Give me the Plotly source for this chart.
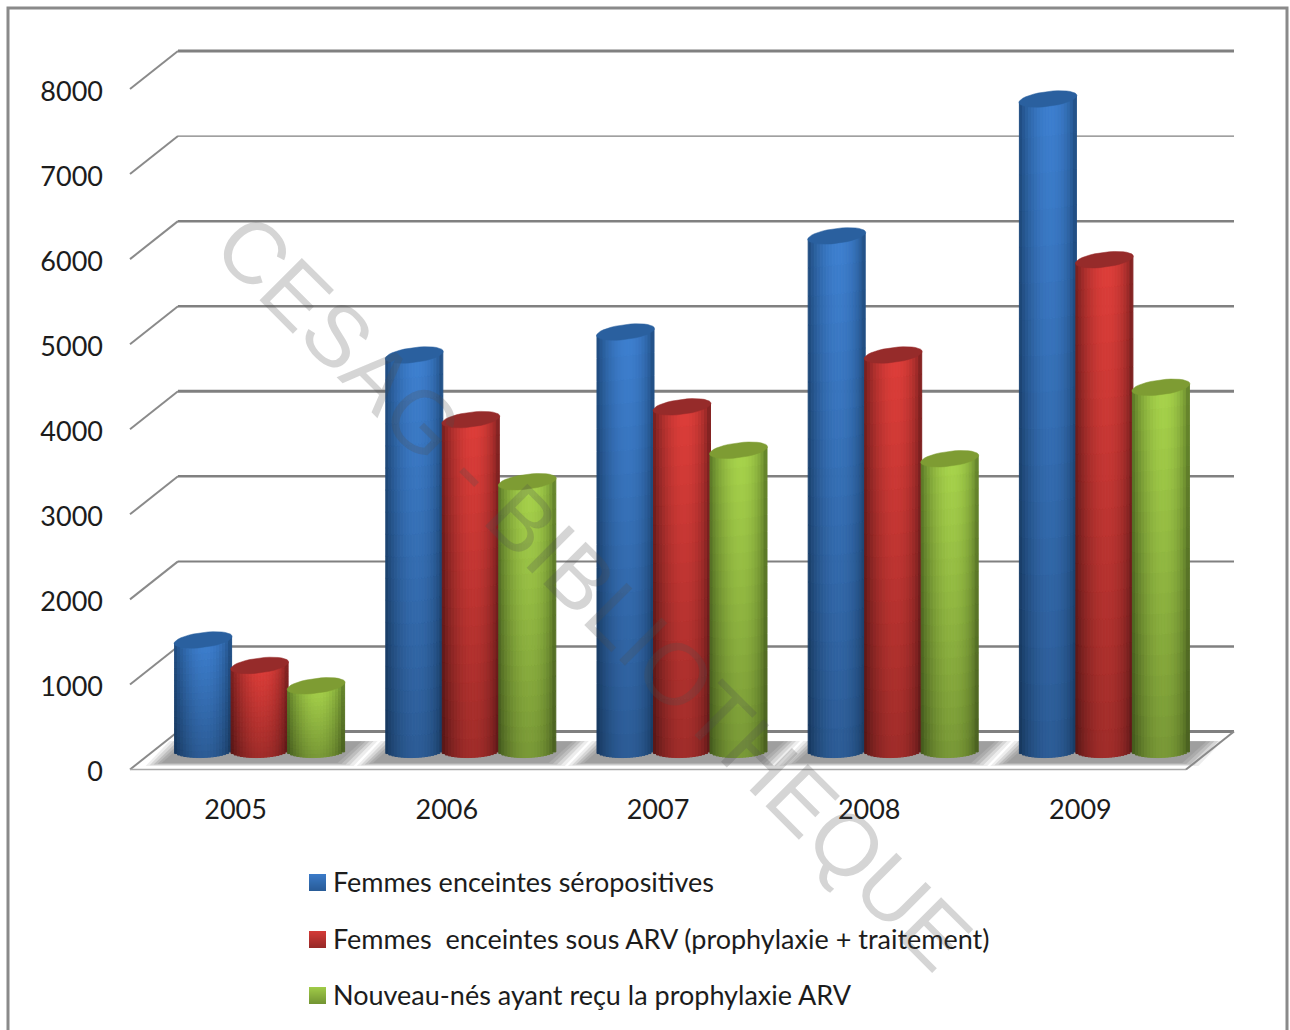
import math
import plotly.graph_objects as go

# Chart data
years = ["2005", "2006", "2007", "2008", "2009"]
series_names = [
    "Femmes enceintes séropositives",
    "Femmes\u00a0 enceintes sous ARV (prophylaxie + traitement)",
    "Nouveau-nés ayant reçu la prophylaxie ARV",
]
seropositives = [1300, 4650, 4920, 6050, 7660]
sous_arv = [1000, 3890, 4040, 4650, 5770]
nouveau_nes = [760, 3160, 3530, 3430, 4270]
y_ticks = [0, 1000, 2000, 3000, 4000, 5000, 6000, 7000, 8000]

# Colours: cylinder edge, cylinder highlight, top cap
blue = ((28, 70, 118), (62, 128, 208), "#2a609f")
red = ((108, 28, 28), (222, 62, 58), "#962b2a")
green = ((84, 112, 36), (168, 212, 76), "#7e9c33")

W, H = 1290, 1030
PX_PER_CAT = 211.2
PX_PER_UNIT = 0.08506
X0_PX, Y0_PX = 259.6, 750.5
LEFT_PX, BOTTOM_PX = 104, 791
DEPTH_X = 24 / PX_PER_CAT
DEPTH_Y = 19 / PX_PER_UNIT
LABEL_DROP = 2.5 / PX_PER_UNIT
HALF_CAT = 0.5

fig = go.Figure()


def mix(a, b, s, f=1.0):
    return "rgb(%d,%d,%d)" % tuple(int((a[i] + (b[i] - a[i]) * s) * f) for i in range(3))


def add_cylinders(values, offset_px, palette):
    edge, light, cap = palette
    a, b_top, b_base, tilt, slope = 28.5, 7.5, 7.0, 0.12, 0.03
    n_x, n_y = 19, 18
    xs, bases, heights, colours = [], [], [], []
    cap_x, cap_y = [], []
    for i, v in enumerate(values):
        cx = i + offset_px / PX_PER_CAT
        for k in range(n_x):
            t = (k + 0.5) / n_x
            dx = (t * 2 - 1) * a
            shade = math.sin(math.pi * t ** 1.16) ** 0.6
            low = (-b_base * math.sqrt(1 - (dx / a) ** 2) + dx * slope) / PX_PER_UNIT
            high = v + dx * tilt / PX_PER_UNIT
            for j in range(n_y):
                f0, f1 = j / n_y, (j + 1) / n_y
                xs.append(cx + dx / PX_PER_CAT)
                bases.append(low + (high - low) * f0)
                heights.append((high - low) * (f1 - f0))
                colours.append(mix(edge, light, shade, 0.72 + 0.28 * (j + 0.5) / n_y))
        for d in range(0, 361, 10):
            th = math.radians(d)
            dx = (a + 0.5) * math.cos(th)
            cap_x.append(cx + dx / PX_PER_CAT)
            cap_y.append(v + (b_top * math.sin(th) + dx * tilt) / PX_PER_UNIT)
        cap_x.append(None)
        cap_y.append(None)
    # A 1 px outline in the slice colour snaps each slice to whole pixels
    fig.add_trace(go.Bar(
        x=xs, y=heights, base=bases, width=2 * a / n_x / PX_PER_CAT,
        marker=dict(color=colours, line=dict(color=colours, width=1)),
        showlegend=False, hoverinfo="skip",
    ))
    fig.add_trace(go.Scatter(
        x=cap_x, y=cap_y, mode="lines", fill="toself", fillcolor=cap,
        line=dict(color=cap, width=0.5), showlegend=False, hoverinfo="skip",
    ))


add_cylinders(seropositives, -56.5, blue)
add_cylinders(sous_arv, 0, red)
add_cylinders(nouveau_nes, 56.5, green)

shapes = []
LEFT_CAT = -HALF_CAT
RIGHT_CAT = len(years) - HALF_CAT

# Soft floor shadows beneath each group of cylinders
for i in range(len(years)):
    for inset, op in ((0, 0.18), (4, 0.28), (8, 0.4), (12, 0.55), (16, 0.8)):
        ins = inset / PX_PER_CAT
        top = (Y0_PX - 741 - inset * 0.03) / PX_PER_UNIT
        bot = (Y0_PX - 766 + inset * 0.18) / PX_PER_UNIT
        path = "M %f,%f L %f,%f L %f,%f L %f,%f Z" % (
            i - 114 / PX_PER_CAT + ins, bot,
            i + 94 / PX_PER_CAT - ins, bot,
            i + 118 / PX_PER_CAT - ins, top,
            i - 90 / PX_PER_CAT + ins, top,
        )
        shapes.append(dict(type="path", path=path, xref="x", yref="y", layer="below",
                           fillcolor="#9c9c9c", opacity=op, line=dict(width=0)))

# Walls: horizontal rule at the back, oblique rule towards the axis
grid_widths = {0: 3, 1000: 2.5, 2000: 2, 3000: 2.5, 4000: 3, 5000: 2.5, 6000: 2.5, 7000: 1.2, 8000: 3}
for v in y_ticks:
    shapes.append(dict(type="line", xref="x", yref="y", layer="below",
                       x0=LEFT_CAT + DEPTH_X, y0=v + DEPTH_Y, x1=RIGHT_CAT + DEPTH_X, y1=v + DEPTH_Y,
                       line=dict(color="#808080", width=grid_widths[v])))
    shapes.append(dict(type="line", xref="x", yref="y", layer="below",
                       x0=LEFT_CAT - DEPTH_X, y0=v - DEPTH_Y, x1=LEFT_CAT + DEPTH_X, y1=v + DEPTH_Y,
                       line=dict(color="#8a8a8a", width=2)))

# Floor outline
shapes.append(dict(type="line", xref="x", yref="y", layer="below",
                   x0=LEFT_CAT - DEPTH_X, y0=-DEPTH_Y, x1=RIGHT_CAT - DEPTH_X, y1=-DEPTH_Y,
                   line=dict(color="#a8a8a8", width=1.5)))
shapes.append(dict(type="line", xref="x", yref="y", layer="below",
                   x0=RIGHT_CAT - DEPTH_X, y0=-DEPTH_Y, x1=RIGHT_CAT + DEPTH_X, y1=DEPTH_Y,
                   line=dict(color="#8a8a8a", width=2)))

# Outer frame of the chart
shapes.append(dict(type="rect", xref="paper", yref="paper", layer="above",
                   x0=8 / W, x1=1287 / W, y0=-20 / H, y1=1 - 8 / H,
                   line=dict(color="#8a8a8a", width=3), fillcolor="rgba(0,0,0,0)"))

annotations = []
legend_rows = [(881, blue), (938, red), (994, green)]
for name, (cy, palette) in zip(series_names, legend_rows):
    annotations.append(dict(text=name, xref="paper", yref="paper", x=331 / W, y=1 - cy / H,
                            xanchor="left", yanchor="middle", showarrow=False,
                            font=dict(family="Lato", size=27, color="#1c1c1c")))
    for k in range(17):
        shapes.append(dict(type="rect", xref="paper", yref="paper", layer="above",
                           x0=309 / W, x1=326 / W,
                           y0=1 - (cy - 7 + k + 1) / H, y1=1 - (cy - 7 + k) / H,
                           fillcolor=mix(palette[1], palette[0], 0.1 + k / 17 * 0.55),
                           line=dict(width=0)))

# Diagonal library stamp across the whole chart
annotations.append(dict(text="CESAG - BIBLIOTHEQUE", xref="paper", yref="paper",
                        x=594 / W, y=1 - 591 / H, xanchor="center", yanchor="middle",
                        textangle=45, showarrow=False,
                        font=dict(family="Liberation Sans", size=87, color="rgba(80,80,80,0.24)")))

fig.update_layout(
    width=W, height=H, autosize=False, margin=dict(l=0, r=0, t=0, b=0),
    paper_bgcolor="white", plot_bgcolor="rgba(0,0,0,0)",
    barmode="overlay", showlegend=False, shapes=shapes, annotations=annotations,
    font=dict(family="Lato", size=27, color="#1c1c1c"),
    xaxis=dict(
        domain=[LEFT_PX / W, 1],
        range=[(LEFT_PX - X0_PX) / PX_PER_CAT, (W - X0_PX) / PX_PER_CAT],
        tickmode="array", tickvals=[i - DEPTH_X for i in range(len(years))], ticktext=years,
        showgrid=False, zeroline=False, showline=False, ticks="",
    ),
    yaxis=dict(
        domain=[1 - BOTTOM_PX / H, 1],
        range=[(Y0_PX - BOTTOM_PX) / PX_PER_UNIT, Y0_PX / PX_PER_UNIT],
        tickmode="array", tickvals=[v - DEPTH_Y - LABEL_DROP for v in y_ticks],
        ticktext=[str(v) for v in y_ticks],
        showgrid=False, zeroline=False, showline=False, ticks="",
    ),
)

fig.write_html("out.html", config=dict(displayModeBar=False))
